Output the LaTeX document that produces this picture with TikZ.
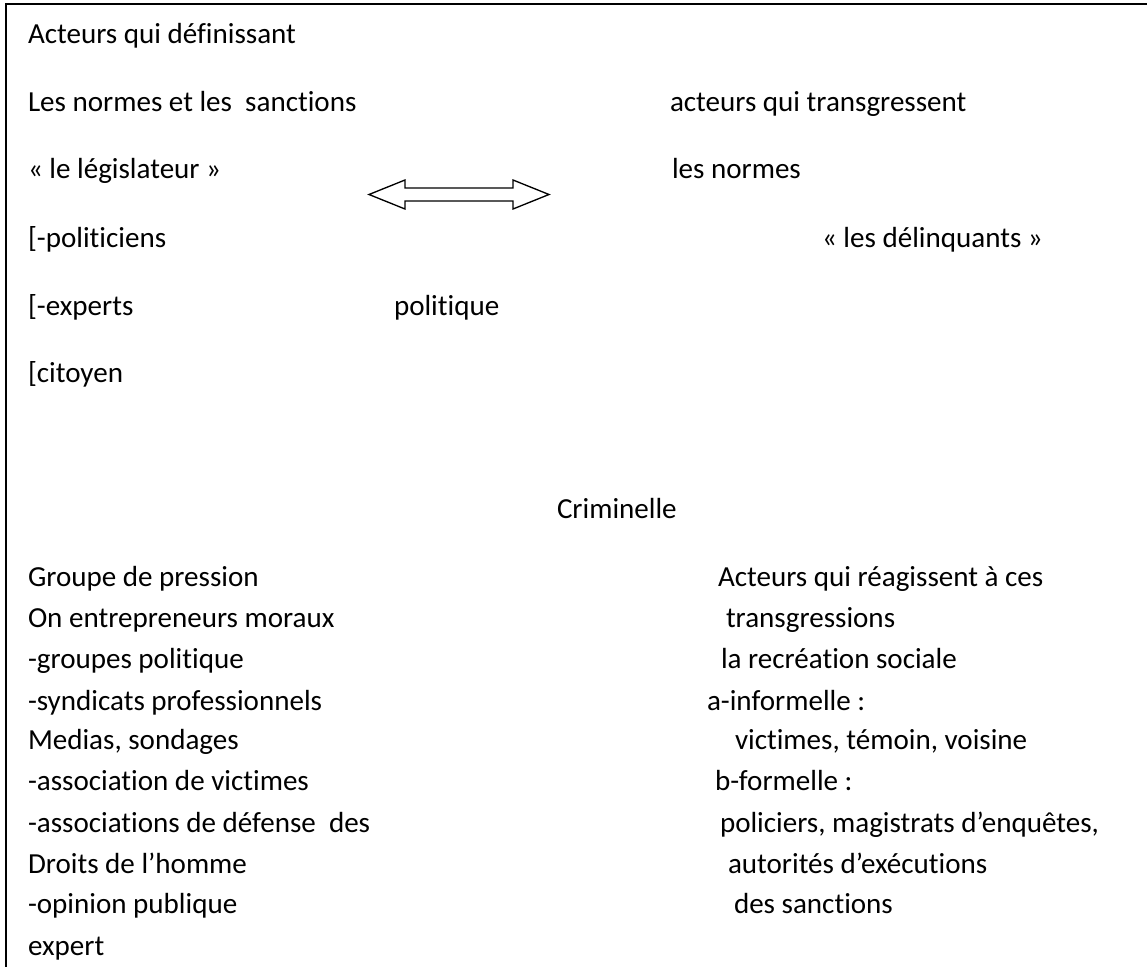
\documentclass[tikz,border=0pt]{standalone}
\usepackage{fontspec}
\setmainfont{Carlito}[RawFeature={-liga;-clig;-dlig}]
\begin{document}
\begin{tikzpicture}[x=0.75pt,y=-0.75pt,
  txt/.style={anchor=base west,inner sep=0pt,outer sep=0pt,font=\fontsize{21.8}{26}\selectfont},
  frame/.style={line width=1.5pt,black},
  dblarrow/.style={line width=1pt,black,fill=white,line join=miter}]
\useasboundingbox (0,0) rectangle (1147,967);
% frame (left and top only)
\coordinate (fbl) at (5.5,967);
\coordinate (ftl) at (5.5,4);
\coordinate (ftr) at (1147,4);
\draw[frame] (fbl) -- (ftl) -- (ftr);
% upper left
\node[txt] (a1) at (28,43) {Acteurs qui définissant};
\node[txt] (a2) at (28,111) {Les normes et les\ \ sanctions};
\node[txt] (a3) at (28,178) {« le législateur »};
\node[txt] (a4) at (28,247) {[-politiciens};
\node[txt] (a5) at (28,315) {[-experts};
\node[txt] (a6) at (28,382) {[citoyen};
\node[txt] (pol) at (394,315) {politique};
% upper right
\node[txt] (b1) at (670,111) {acteurs qui transgressent};
\node[txt] (b2) at (672,178) {les normes};
\node[txt] (b3) at (822,247) {« les délinquants »};
% double arrow
\coordinate (arrL) at (369,194.5);
\coordinate (arrR) at (549,194.5);
\draw[dblarrow] (arrL) -- (405,180) -- (405,188) -- (513,188) -- (513,180) -- (arrR)
  -- (513,209) -- (513,201) -- (405,201) -- (405,209) -- cycle;
% centre
\node[txt] (crim) at (557,518) {Criminelle};
% lower left
\node[txt] (c1) at (28,586) {Groupe de pression};
\node[txt] (c2) at (28,627) {On entrepreneurs moraux};
\node[txt] (c3) at (28,668) {-groupes politique};
\node[txt] (c4) at (28,710) {-syndicats professionnels};
\node[txt] (c5) at (28,749) {Medias, sondages};
\node[txt] (c6) at (28,790) {-association de victimes};
\node[txt] (c7) at (28,832) {-associations de défense\ \ des};
\node[txt] (c8) at (28,873) {Droits de l’homme};
\node[txt] (c9) at (28,913) {-opinion publique};
\node[txt] (c10) at (28,955) {expert};
% lower right
\node[txt] (d1) at (718,586) {Acteurs qui réagissent à ces};
\node[txt] (d2) at (726,627) {transgressions};
\node[txt] (d3) at (721,668) {la recréation sociale};
\node[txt] (d4) at (707,710) {a-informelle :};
\node[txt] (d5) at (735,749) {victimes, témoin, voisine};
\node[txt] (d6) at (715,790) {b-formelle :};
\node[txt] (d7) at (720,832) {policiers, magistrats d’enquêtes,};
\node[txt] (d8) at (728,873) {autorités d’exécutions};
\node[txt] (d9) at (734,913) {des sanctions};
\end{tikzpicture}
\end{document}
